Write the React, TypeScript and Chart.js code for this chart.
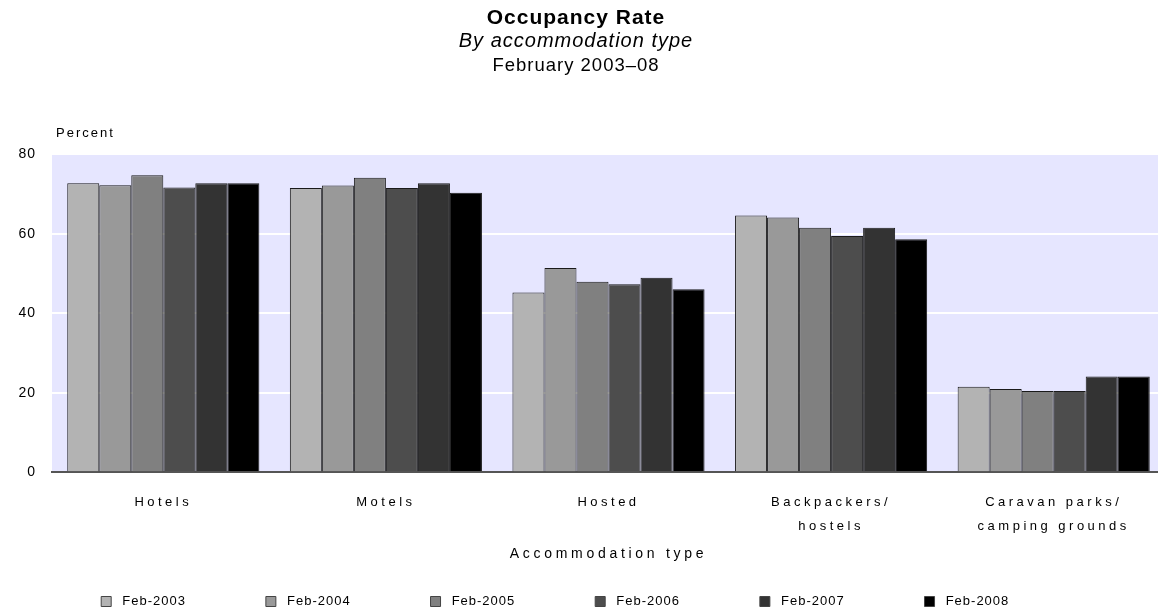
import React, { useEffect, useRef } from "react";
import { Chart, registerables } from "chart.js";

Chart.register(...registerables);

const categories: (string | string[])[] = [
  "Hotels",
  "Motels",
  "Hosted",
  ["Backpackers/", "hostels"],
  ["Caravan parks/", "camping grounds"],
];

const seriesLabels = ["Feb-2003", "Feb-2004", "Feb-2005", "Feb-2006", "Feb-2007", "Feb-2008"];

const feb2003 = [72.7, 71.5, 45.2, 64.6, 21.5];
const feb2004 = [72.2, 72.1, 51.4, 64.1, 20.9];
const feb2005 = [74.7, 74.1, 47.9, 61.5, 20.4];
const feb2006 = [71.6, 71.5, 47.3, 59.4, 20.4];
const feb2007 = [72.7, 72.7, 48.9, 61.5, 24.1];
const feb2008 = [72.7, 70.3, 46.0, 58.6, 24.1];

const seriesValues = [feb2003, feb2004, feb2005, feb2006, feb2007, feb2008];
const seriesColors = ["#b3b3b3", "#999999", "#808080", "#4d4d4d", "#333333", "#000000"];

const yTicks = [0, 20, 40, 60, 80];

const titleText = "Occupancy Rate";
const subtitleText = "By accommodation type";
const periodText = "February 2003–08";
const yAxisTitle = "Percent";
const xAxisTitle = "Accommodation type";

const FONT = "'Liberation Sans', Arial, sans-serif";

export default function App() {
  const canvasRef = useRef<HTMLCanvasElement | null>(null);

  useEffect(() => {
    document.body.style.margin = "0";
    document.body.style.overflow = "hidden";
    const canvas = canvasRef.current;
    if (!canvas) return;

    const spacingPlugin = {
      id: "spacing",
      beforeUpdate(chart: any) {
        chart.ctx.letterSpacing = "1px";
      },
      beforeDraw(chart: any) {
        chart.ctx.letterSpacing = "1px";
      },
    };

    const bgPlugin = {
      id: "plotBg",
      beforeDraw(chart: any) {
        const { ctx, chartArea } = chart;
        ctx.save();
        ctx.fillStyle = "#e6e6ff";
        ctx.fillRect(chartArea.left, chartArea.top, chartArea.right - chartArea.left, chartArea.bottom - chartArea.top);
        ctx.restore();
      },
    };

    const extraText = {
      id: "extraText",
      afterDraw(chart: any) {
        const { ctx, chartArea } = chart;
        const tb = chart.titleBlock;
        const base = tb ? tb.bottom : 30;
        ctx.save();
        ctx.letterSpacing = "1px";
        ctx.fillStyle = "#000";
        ctx.textBaseline = "middle";
        ctx.textAlign = "center";
        ctx.font = `18.5px ${FONT}`;
        ctx.fillText(periodText, tb ? (tb.left + tb.right) / 2 : chart.width / 2, base + 37);
        ctx.textAlign = "left";
        ctx.letterSpacing = "2px";
        ctx.font = `13px ${FONT}`;
        ctx.fillText(yAxisTitle, chartArea.left + 4, chartArea.top - 21);
        ctx.restore();
      },
    };

    const chart: any = new Chart(canvas, {
      type: "bar",
      data: {
        labels: categories,
        datasets: seriesLabels.map((label, i) => ({
          label,
          data: seriesValues[i],
          backgroundColor: seriesColors[i],
          borderColor: "#1a1a1a",
          borderWidth: 1,
          categoryPercentage: 0.863,
          barPercentage: 1.0,
        })),
      },
      plugins: [spacingPlugin, bgPlugin, extraText],
      options: {
        responsive: false,
        animation: false,
        layout: { padding: 0 },
        plugins: {
          title: {
            display: true,
            text: titleText,
            color: "#000",
            font: { family: FONT, size: 21, weight: "bold" },
            padding: { top: 6, bottom: -2 },
          },
          subtitle: {
            display: true,
            text: subtitleText,
            color: "#000",
            font: { family: FONT, size: 20, style: "italic" },
            padding: { top: 0, bottom: 101 },
          },
          legend: {
            position: "bottom",
            labels: {
              color: "#000",
              font: { family: FONT, size: 13 },
              boxWidth: 10,
              boxHeight: 10,
              padding: 38.4,
              generateLabels: (c: any) =>
                c.data.datasets.map((ds: any, i: number) => ({
                  text: "\u00a0" + ds.label + "\u00a0".repeat(9),
                  fillStyle: ds.backgroundColor,
                  strokeStyle: "#444",
                  lineWidth: 1,
                  fontColor: "#000",
                  datasetIndex: i,
                  hidden: false,
                })),
            },
          },
          tooltip: { enabled: false },
        },
        scales: {
          x: {
            grid: { display: false, drawTicks: false },
            border: { display: true, color: "#555", width: 2 },
            ticks: {
              color: "#000",
              font: { family: FONT, size: 13, lineHeight: 24 / 13 },
              padding: 18,
              maxRotation: 0,
              autoSkip: false,
            },
            title: {
              display: true,
              text: xAxisTitle,
              color: "#000",
              font: { family: FONT, size: 14 },
              padding: { top: -10, bottom: -6.4 },
            },
          },
          y: {
            min: 0,
            max: 80,
            afterFit(scale: any) {
              scale.width = 65;
            },
            afterBuildTicks(scale: any) {
              scale.ticks = yTicks.map((v) => ({ value: v }));
            },
            grid: { color: "#ffffff", lineWidth: 2, drawTicks: false },
            border: { display: false },
            ticks: {
              color: "#000",
              font: { family: FONT, size: 14 },
              padding: 16,
            },
          },
        },
      },
    });

    const xs: any = chart.scales.x;
    const origLabels = xs.drawLabels;
    xs.drawLabels = function (ca: any) {
      const c = this.ctx;
      c.save();
      c.letterSpacing = "3.5px";
      origLabels.call(this, ca);
      c.restore();
    };
    const origTitle = xs.drawTitle;
    xs.drawTitle = function (ca: any) {
      const c = this.ctx;
      c.save();
      c.letterSpacing = "3.7px";
      origTitle.call(this, ca);
      c.restore();
    };
    chart.draw();

    return () => chart.destroy();
  }, []);

  return (
    <div style={{ position: "absolute", left: -13, top: 0, width: 1178, height: 618 }}>
      <canvas ref={canvasRef} width={1178} height={618} style={{ display: "block" }} />
    </div>
  );
}
